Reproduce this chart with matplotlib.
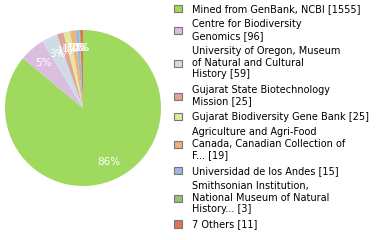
import matplotlib
matplotlib.use('Agg')
from matplotlib import pyplot as plt
from matplotlib.patches import Patch

# 数据
labels = [
    "Mined from GenBank, NCBI [1555]",
    "Centre for Biodiversity\nGenomics [96]",
    "University of Oregon, Museum\nof Natural and Cultural\nHistory [59]",
    "Gujarat State Biotechnology\nMission [25]",
    "Gujarat Biodiversity Gene Bank [25]",
    "Agriculture and Agri-Food\nCanada, Canadian Collection of\nF... [19]",
    "Universidad de los Andes [15]",
    "Smithsonian Institution,\nNational Museum of Natural\nHistory... [3]",
    "7 Others [11]",
]
counts = [1555, 96, 59, 25, 25, 19, 15, 3, 11]
colors = ['#9fda5e', '#dbbde0', '#cfdbe6', '#e0a397', '#e3e6a1',
          '#f2b073', '#99b9e0', '#9ac172', '#e07356']

fig = plt.figure(figsize=(3.8, 2.4), dpi=100)
ax = fig.add_axes([5 / 380, 54 / 240, 156 / 380, 156 / 240])

wedges, texts, autotexts = ax.pie(counts, colors=colors, startangle=90,
                                  counterclock=False, radius=1,
                                  autopct='%.0f%%', pctdistance=0.77,
                                  textprops={'color': 'white', 'fontsize': 7.5})
ax.set_xlim(-1, 1)
ax.set_ylim(-1, 1)
ax.set_aspect('auto')
ax.axis('off')

handles = [Patch(facecolor=c, edgecolor='#777777', linewidth=0.8) for c in colors]
fig.legend(handles, labels, loc='upper left',
           bbox_to_anchor=(174 / 380, 1 - 4 / 240),
           frameon=False, fontsize=7, handlelength=0.8, handleheight=0.8,
           labelspacing=0.55, handletextpad=1.1, borderpad=0, borderaxespad=0)

fig.savefig('out.png', dpi=100)
